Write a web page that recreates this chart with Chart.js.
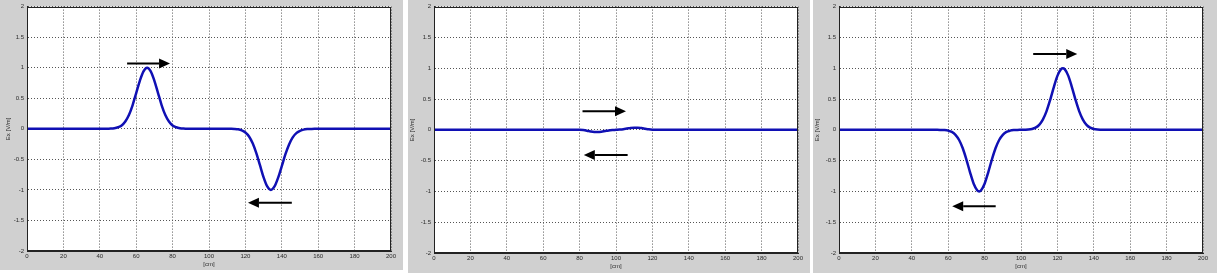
<!DOCTYPE html>
<html><head><meta charset="utf-8">
<script src="https://cdn.jsdelivr.net/npm/chart.js@4"></script>
<style>
html,body{margin:0;padding:0;background:#fff;width:1217px;height:273px;overflow:hidden}
.panel{position:absolute;top:0;background:#d0d0d0}
canvas{display:block}
</style></head><body>
<div class="panel" style="left:0;width:403px;height:270px"><canvas id="c1" width="403" height="270"></canvas></div>
<div class="panel" style="left:408px;width:402px;height:273px"><canvas id="c2" width="402" height="273"></canvas></div>
<div class="panel" style="left:813px;width:404px;height:273px"><canvas id="c3" width="404" height="273"></canvas></div>
<script>
// ---- data ----
const xTicks = [0,20,40,60,80,100,120,140,160,180,200];
const yTicks = [2,1.5,1,0.5,0,-0.5,-1,-1.5,-2];
const xTitle = '[cm]';
const yTitle = 'Ex [V/m]';

const x1 = [0,20,40,44,46,48,50,52,54,56,58,60,62,64,66,68,70,72,74,76,78,80,82,84,86,88,92,100,108,112,114,116,118,120,122,124,126,128,130,132,134,136,138,140,142,144,146,148,150,152,154,156,158,160,180,200];
const y1 = [0,0,0,0,0.003,0.01,0.025,0.055,0.12,0.225,0.385,0.585,0.785,0.94,1.0,0.94,0.785,0.585,0.385,0.225,0.12,0.055,0.025,0.01,0.003,0,0,0,0,-0.001,-0.003,-0.009,-0.025,-0.06,-0.126,-0.238,-0.399,-0.596,-0.795,-0.944,-1.0,-0.944,-0.8,-0.61,-0.415,-0.255,-0.14,-0.07,-0.035,-0.014,-0.005,-0.002,0,0,0,0];

const x2 = [0,20,40,60,78,80,82,84,86,88,90,92,94,96,98,100,102,104,106,108,110,112,114,116,118,120,122,140,160,180,200];
const y2 = [0,0,0,0,0,0,-0.005,-0.015,-0.028,-0.035,-0.035,-0.03,-0.02,-0.01,-0.004,0,0.004,0.01,0.02,0.03,0.035,0.035,0.028,0.018,0.008,0.002,0,0,0,0,0];

const x3 = [0,20,40,50,54,56,58,60,62,64,66,68,70,72,74,76,77,78,80,82,84,86,88,90,92,94,96,98,100,102,104,106,108,110,112,114,116,118,120,122,123,124,126,128,130,132,134,136,138,140,142,144,146,160,180,200];
const y3 = [0,0,0,0,0,-0.002,-0.005,-0.014,-0.035,-0.081,-0.166,-0.3,-0.483,-0.69,-0.875,-0.985,-1.0,-0.985,-0.875,-0.69,-0.483,-0.3,-0.166,-0.081,-0.035,-0.014,-0.005,-0.002,0,0.002,0.005,0.014,0.035,0.081,0.166,0.3,0.483,0.69,0.875,0.985,1.0,0.985,0.875,0.69,0.483,0.3,0.166,0.081,0.035,0.014,0.005,0.002,0,0,0,0];

// arrows: [from x, to x (tip), y]
const arrows1 = [[55,78.6,1.07],[145.5,121.4,-1.21]];
const arrows2 = [[81.6,105.5,0.30],[106.4,82.3,-0.41]];
const arrows3 = [[106.7,130.9,1.23],[86.1,62.2,-1.24]];

// ---- drawing ----
const FONT = {family:'"Liberation Sans", Arial, sans-serif', size:6};
const TEXT = '#2a2a2a';

const overlay = {
  id:'overlay',
  beforeDraw(chart){
    const {ctx, chartArea:a} = chart;
    ctx.save();
    ctx.fillStyle = '#fff';
    ctx.fillRect(a.left, a.top, a.right-a.left, a.bottom-a.top);
    ctx.restore();
  },
  afterDatasetsDraw(chart, args, opts){
    const {ctx, chartArea:a, scales:{x, y}} = chart;
    ctx.save();
    ctx.strokeStyle = '#222'; ctx.lineWidth = 1; ctx.setLineDash([]);
    ctx.strokeRect(Math.round(a.left)+0.5, Math.round(a.top)+0.5, Math.round(a.right-a.left)-1, Math.round(a.bottom-a.top)-1);
    for (const [xs, xe, yv] of opts.arrows){
      const p0 = x.getPixelForValue(xs), p1 = x.getPixelForValue(xe), py = y.getPixelForValue(yv);
      const dir = Math.sign(p1-p0), hl = 11, hh = 5;
      ctx.strokeStyle = '#000'; ctx.lineWidth = 2;
      ctx.beginPath(); ctx.moveTo(p0, py); ctx.lineTo(p1-dir*hl, py); ctx.stroke();
      ctx.fillStyle = '#000';
      ctx.beginPath(); ctx.moveTo(p1, py); ctx.lineTo(p1-dir*hl, py-hh); ctx.lineTo(p1-dir*hl, py+hh); ctx.closePath(); ctx.fill();
    }
    ctx.restore();
  }
};

function make(id, xs, ys, arrows, box){
  const pts = xs.map((v,i)=>({x:v, y:ys[i]}));
  return new Chart(document.getElementById(id), {
    type:'line',
    data:{datasets:[{data:pts, borderColor:'#1010b4', borderWidth:2.5, pointRadius:0, cubicInterpolationMode:'monotone', fill:false}]},
    options:{
      responsive:false, animation:false, devicePixelRatio:1,
      layout:{padding:{left:0, top:box.t, right:box.w-box.r, bottom:0}},
      plugins:{legend:{display:false}, tooltip:{enabled:false}, overlay:{arrows}},
      scales:{
        x:{type:'linear', min:xTicks[0], max:xTicks[xTicks.length-1],
           afterBuildTicks:s=>{s.ticks = xTicks.map(v=>({value:v}));},
           afterFit:s=>{s.height = box.h-box.b;},
           ticks:{font:FONT, color:TEXT, padding:2, maxRotation:0, autoSkip:false, callback:v=>String(v)},
           grid:{color:'#555', lineWidth:1, drawTicks:false},
           border:{display:true, color:'#222', dash:[1,2]},
           title:{display:true, text:xTitle, font:FONT, color:TEXT, padding:{top:0,bottom:box.xtp}}},
        y:{type:'linear', min:yTicks[yTicks.length-1], max:yTicks[0],
           afterBuildTicks:s=>{s.ticks = yTicks.slice().reverse().map(v=>({value:v}));},
           afterFit:s=>{s.width = box.l;},
           ticks:{font:FONT, color:TEXT, padding:3, autoSkip:false, callback:v=>String(v)},
           grid:{color:'#555', lineWidth:1, drawTicks:false},
           border:{display:true, color:'#222', dash:[1,2]},
           title:{display:true, text:yTitle, font:FONT, color:TEXT, padding:{top:box.ytp,bottom:0}}}
      }
    },
    plugins:[overlay]
  });
}

make('c1', x1, y1, arrows1, {w:403, h:270, l:27, t:3, r:391, b:251, ytp:4.4, xtp:2.1});
make('c2', x2, y2, arrows2, {w:402, h:273, l:26, t:6, r:390, b:253, ytp:1, xtp:2.7});
make('c3', x3, y3, arrows3, {w:404, h:273, l:26, t:6, r:390, b:253, ytp:1, xtp:2.7});
</script>
</body></html>
